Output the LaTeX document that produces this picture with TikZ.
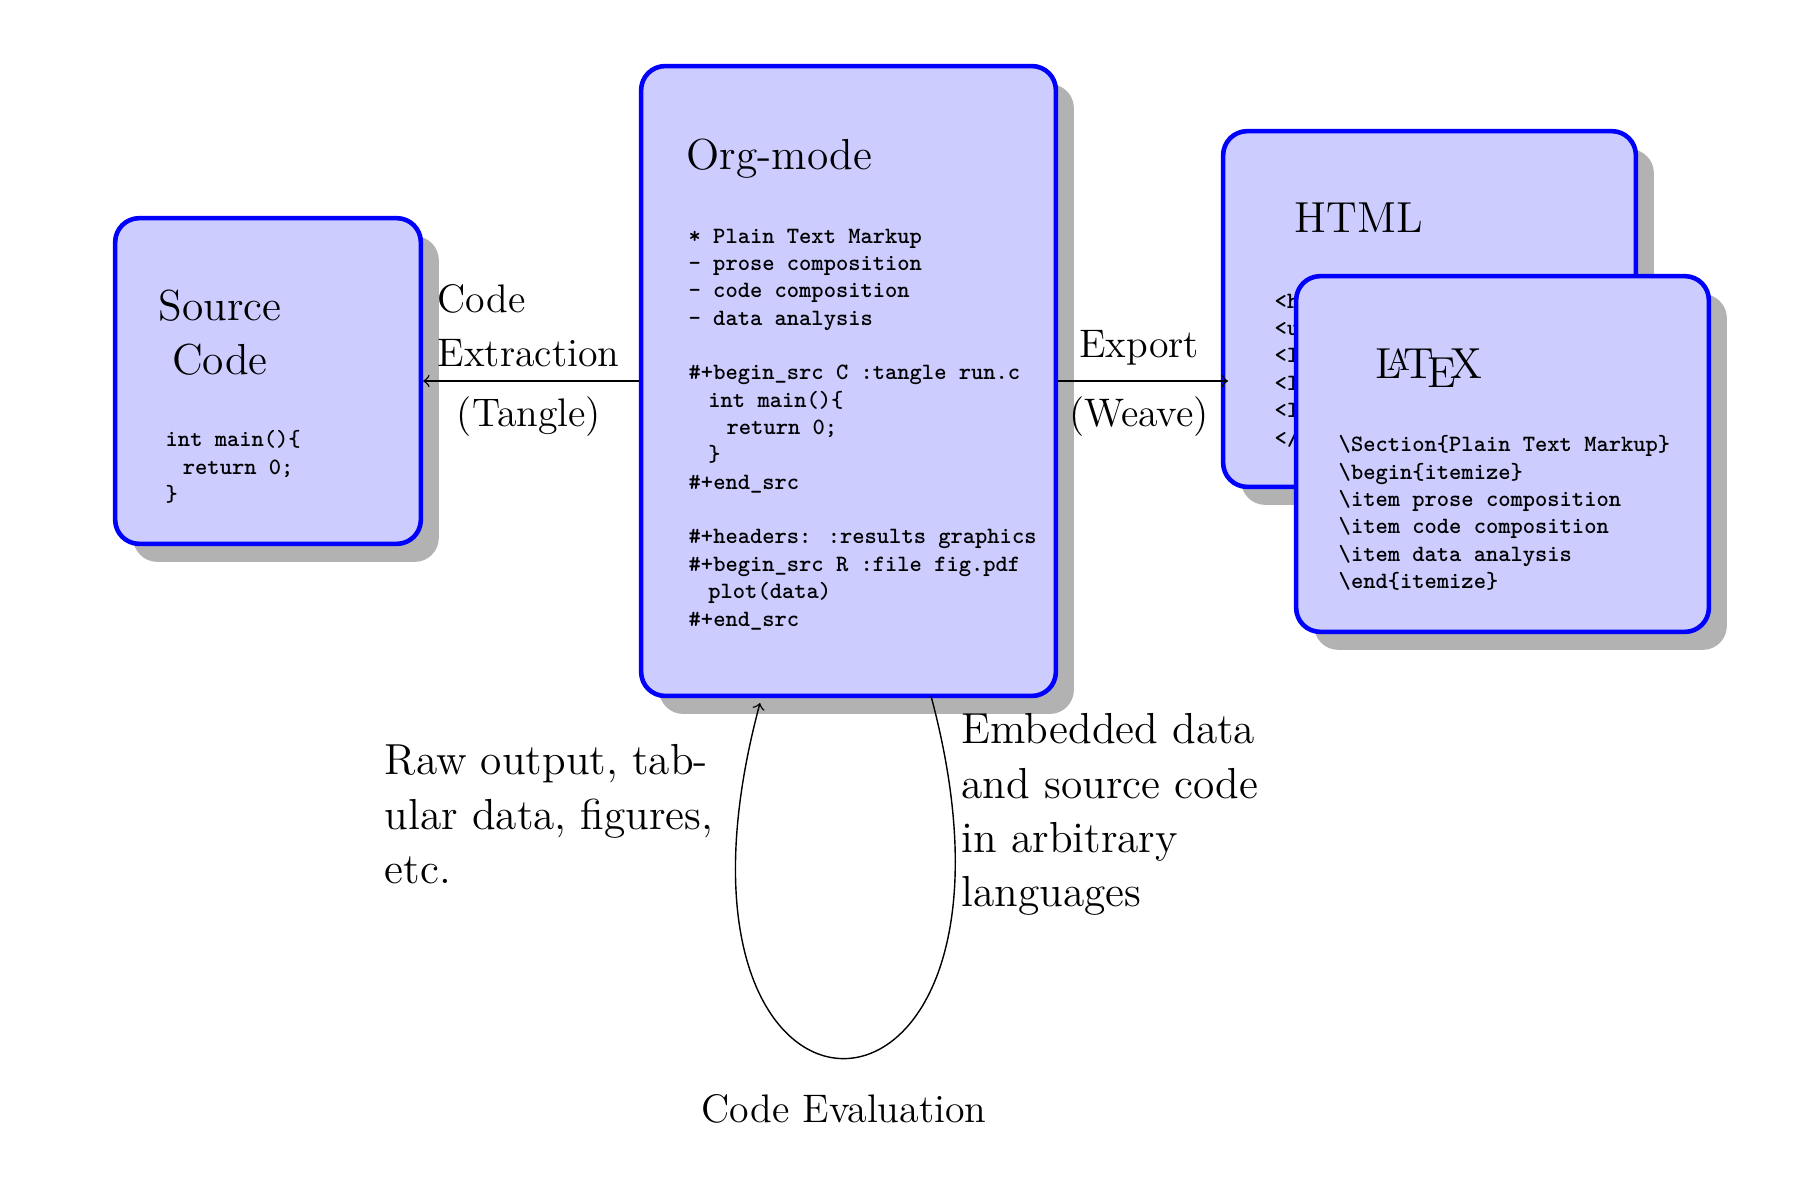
\documentclass[tikz,border=0pt]{standalone}
\usetikzlibrary{shadows,calc}
\tikzset{
  x=0.01cm,y=-0.01cm,
  panel/.style={draw=blue,fill=blue!20,line width=1.3pt,rounded corners=2.4mm,
    drop shadow={shadow xshift=1.8mm,shadow yshift=-1.8mm,fill=black!30,opacity=1}},
  heading/.style={inner sep=0pt,anchor=north west,align=left,font=\fontsize{12.35}{15.4}\selectfont},
  code/.style={inner sep=0pt,anchor=north west,align=left,font=\fontsize{6.65}{7.78}\selectfont\ttfamily\bfseries},
  lbl/.style={inner sep=0pt,font=\fontsize{11.33}{15.4}\selectfont},
  note/.style={inner sep=0pt,anchor=north west,align=left,font=\fontsize{12.35}{15.4}\selectfont},
  flow/.style={->,line width=0.4pt}
}
\begin{document}
\begin{tikzpicture}
\useasboundingbox (0,0) rectangle (1794,1178);
% boxes
\node[panel,minimum width=3.055cm,minimum height=3.255cm] (src) at (268,381) {};
\node[panel,minimum width=4.145cm,minimum height=6.295cm] (org) at (848.5,381) {};
\node[panel,minimum width=4.125cm,minimum height=3.555cm] (html) at (1429.5,309) {};
\node[code] (htmlcode) at (1274,293) {<h1>\\<ul>\\<li>\\<li>\\<li>\\</ul>};
\node[panel,minimum width=4.125cm,minimum height=3.555cm] (tex) at (1502.5,454) {};
% box text
\node[heading,align=center,anchor=north] (srct) at (220,289) {Source\\Code};
\node[code] (srcc) at (165,430) {int main()\{\\\hspace*{4.9pt}return 0;\\\}};
\node[heading] (orgt) at (686,138) {Org-mode};
\node[code] (orgc) at (688,228) {*\ Plain Text Markup\\- prose composition\\- code composition\\- data analysis\\[7.78pt]%
\#+begin\_src C :tangle run.c\\\hspace*{5.6pt}int main()\{\\\hspace*{10.8pt}return 0;\\\hspace*{5.6pt}\}\\\#+end\_src\\[7.78pt]%
\#+headers: :results graphics\\\#+begin\_src R :file fig.pdf\\\hspace*{5.6pt}plot(data)\\\#+end\_src};
\node[heading] (htmlt) at (1294,202) {HTML};
\node[heading] (text) at (1375,348) {\LaTeX};
\node[code] (texc) at (1338,435) {\textbackslash Section\{Plain Text Markup\}\\\textbackslash begin\{itemize\}\\\textbackslash item prose composition\\\textbackslash item code composition\\\textbackslash item data analysis\\\textbackslash end\{itemize\}};
% connectors
\coordinate (exportEnd) at (1228,381);
\coordinate (loopOut) at (931,696);
\coordinate (loopIn) at (760,703);
\draw[flow] (org) -- (src);
\draw[flow] (org.east) -- (exportEnd);
\draw[line width=0.4pt,->] (loopOut) to[out=-75,in=-105,looseness=7.4] (loopIn);
% labels
\node[lbl,anchor=north west,align=left] (tangleA) at (437,284) {Code\\Extraction};
\node[lbl,anchor=north] (tangleB) at (529,396) {(Tangle)};
\node[lbl,anchor=north] (weaveA) at (1139,330) {Export};
\node[lbl,anchor=north] (weaveB) at (1139,396) {(Weave)};
\node[note] (raw) at (384,744) {Raw output, tab-\\ular data, figures,\\etc.};
\node[note] (emb) at (961,713) {Embedded data\\and source code\\in arbitrary\\languages};
\node[lbl,anchor=north] (evalu) at (844,1094) {Code Evaluation};
\end{tikzpicture}
\end{document}
